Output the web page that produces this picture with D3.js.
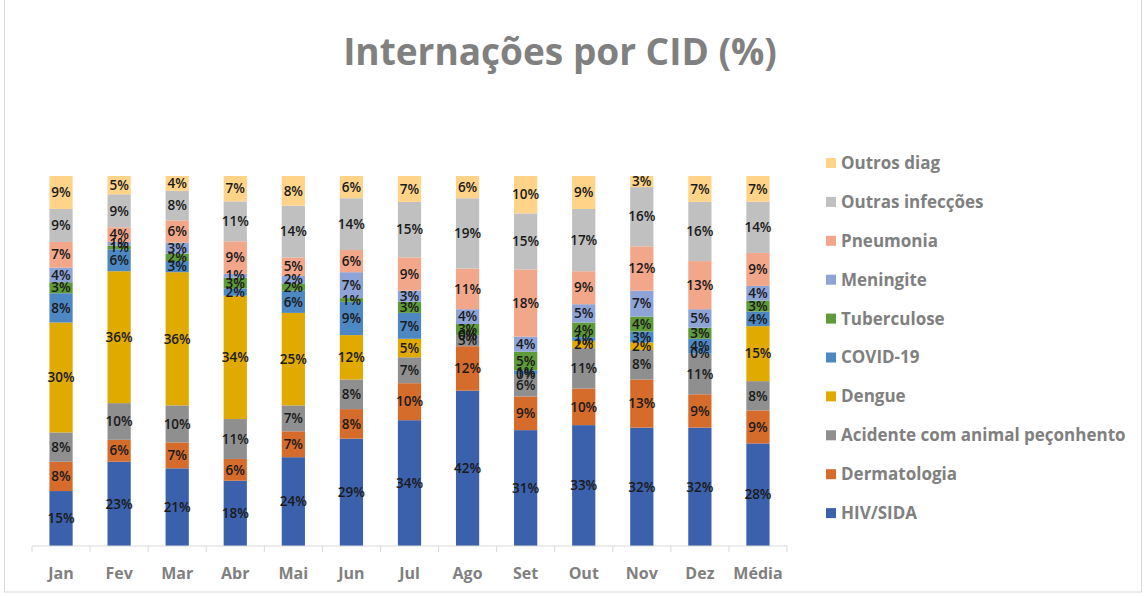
<!DOCTYPE html>
<html>
<head>
<meta charset="utf-8">
<script src="https://cdn.jsdelivr.net/npm/d3@7"></script>
<style>
  html, body { margin: 0; padding: 0; background: #fff; }
  svg { display: block; font-family: "Open Sans", "Liberation Sans", sans-serif; }
</style>
</head>
<body>
<svg id="chart" width="1147" height="596"></svg>
<script>
// ---- Data (percentages as labelled) ----
const months = ["Jan","Fev","Mar","Abr","Mai","Jun","Jul","Ago","Set","Out","Nov","Dez","Média"];
const seriesNames = ["HIV/SIDA","Dermatologia","Acidente com animal peçonhento","Dengue","COVID-19","Tuberculose","Meningite","Pneumonia","Outras infecções","Outros diag"];
const hiv        = [15,23,21,18,24,29,34,42,31,33,32,32,28];
const dermato    = [ 8, 6, 7, 6, 7, 8,10,12, 9,10,13, 9, 9];
const acidente   = [ 8,10,10,11, 7, 8, 7, 3, 6,11, 8,11, 8];
const dengue     = [30,36,36,34,25,12, 5, 0, 0, 2, 2, 0,15];
const covid      = [ 8, 6, 3, 2, 6, 9, 7, 0, 1, 1, 3, 4, 4];
const tuberc     = [ 3, 1, 2, 3, 2, 1, 3, 3, 5, 4, 4, 3, 3];
const meningite  = [ 4, 1, 3, 1, 2, 7, 3, 4, 4, 5, 7, 5, 4];
const pneumonia  = [ 7, 4, 6, 9, 5, 6, 9,11,18, 9,12,13, 9];
const outrasInf  = [ 9, 9, 8,11,14,14,15,19,15,17,16,16,14];
const outrosDiag = [ 9, 5, 4, 7, 8, 6, 7, 6,10, 9, 3, 7, 7];
const seriesValues = [hiv,dermato,acidente,dengue,covid,tuberc,meningite,pneumonia,outrasInf,outrosDiag];
const colors = ["#3c61ac","#d66c2b","#8f8f8f","#e1aa00","#4d88c3","#5f9a3b","#8ea3d6","#f2a68a","#c0c0c0","#ffd489"];

// ---- Build table ----
const table = months.map((m, i) => {
  const row = { month: m };
  seriesNames.forEach((s, j) => row[s] = seriesValues[j][i]);
  return row;
});

const svg = d3.select("#chart");

// chart frame
svg.append("rect")
  .attr("x", 4.5).attr("y", -2).attr("width", 1137).attr("height", 594)
  .attr("fill", "none").attr("stroke", "#d9d9d9").attr("stroke-width", 1);

// title
svg.append("text")
  .attr("x", 560).attr("y", 65)
  .attr("text-anchor", "middle")
  .attr("font-size", 37).attr("font-weight", "bold")
  .attr("fill", "#808080")
  .text("Internações por CID (%)");

const x = d3.scaleBand().domain(months).range([32, 787]).paddingInner(0.6).paddingOuter(0.3);
const y = d3.scaleLinear().domain([0, 1]).range([546, 176]);

const stack = d3.stack().keys(seriesNames).offset(d3.stackOffsetExpand);
const stacked = stack(table);

const groups = svg.append("g").selectAll("g")
  .data(stacked).join("g")
  .attr("fill", (d, i) => colors[i]);

groups.selectAll("rect")
  .data(d => d.map(p => Object.assign(p, { key: d.key })))
  .join("rect")
  .attr("x", d => x(d.data.month))
  .attr("width", x.bandwidth())
  .attr("y", d => y(d[1]))
  .attr("height", d => y(d[0]) - y(d[1]));

// labels
const labels = svg.append("g");
stacked.forEach(layer => {
  layer.forEach(p => {
    labels.append("text")
      .attr("x", x(p.data.month) + x.bandwidth() / 2)
      .attr("y", (y(p[0]) + y(p[1])) / 2)
      .attr("dy", "0.35em")
      .attr("text-anchor", "middle")
      .attr("font-size", 13.5).attr("font-weight", 600)
      .attr("fill", "#1a1a1a")
      .text(p.data[layer.key] + "%");
  });
});

// x axis
const xAxisG = svg.append("g").attr("transform", "translate(0,546)");
xAxisG.append("line").attr("x1", 32).attr("x2", 787).attr("stroke", "#d9d9d9");
d3.range(months.length + 1).forEach(i => {
  const xx = 32 + (787 - 32) / months.length * i;
  xAxisG.append("line").attr("x1", xx).attr("x2", xx).attr("y1", 0).attr("y2", 6).attr("stroke", "#d9d9d9");
});
xAxisG.selectAll("text.tick").data(months).join("text")
  .attr("class", "tick")
  .attr("x", d => x(d) + x.bandwidth() / 2)
  .attr("y", 33)
  .attr("text-anchor", "middle")
  .attr("font-size", 16).attr("font-weight", "bold")
  .attr("fill", "#808080")
  .text(d => d);

// legend
const legendOrder = seriesNames.map((s, i) => i).reverse();
const legend = svg.append("g");
legendOrder.forEach((si, k) => {
  const ly = 163 + k * 38.9;
  legend.append("rect").attr("x", 826).attr("y", ly - 5).attr("width", 10).attr("height", 10).attr("fill", colors[si]);
  legend.append("text").attr("x", 841).attr("y", ly).attr("dy", "0.35em")
    .attr("font-size", 17).attr("font-weight", "bold").attr("fill", "#808080")
    .text(seriesNames[si]);
});
</script>
</body>
</html>
